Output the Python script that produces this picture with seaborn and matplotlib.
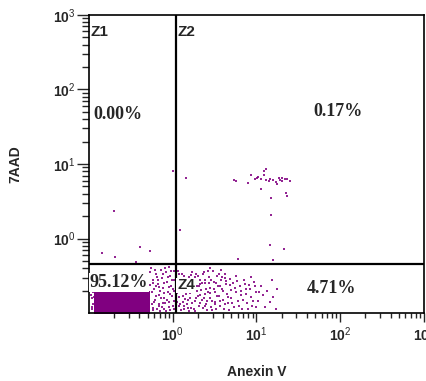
import numpy as np
import pandas as pd
import matplotlib
matplotlib.use("Agg")
import matplotlib.pyplot as plt
import seaborn as sns
from matplotlib.ticker import LogLocator, NullFormatter

# quadrant gates (data units)
gate_x = 1.09
gate_y = 0.46

# quadrant texts
zone_names = ["Z1", "Z2", "Z4"]
pct_labels = ["0.00%", "0.17%", "95.12%", "4.71%"]

tick_vals = [1, 10, 100, 1000]
tick_text = [r"$\mathbf{10}^{0}$", r"$\mathbf{10}^{1}$",
             r"$\mathbf{10}^{2}$", r"$\mathbf{10}^{3}$"]

# events, as (log10 Anexin V, log10 7AAD)
upper_pts = [
    (0.73, 0.79), (0.75, 0.77), (0.90, 0.75), (0.94, 0.85), (0.98, 0.80), (1.01, 0.81),
    (1.02, 0.83), (1.06, 0.80), (1.09, 0.90), (1.11, 0.93), (1.09, 0.85), (1.12, 0.78),
    (1.16, 0.80), (1.15, 0.77), (1.20, 0.78), (1.23, 0.76), (1.25, 0.73), (1.27, 0.81),
    (1.28, 0.79), (1.31, 0.81), (1.31, 0.77), (1.34, 0.80), (1.37, 0.80), (1.40, 0.77),
    (1.05, 0.66), (1.17, 0.55), (1.35, 0.61), (1.37, 0.57), (1.17, 0.32), (1.16, -0.09),
    (1.33, -0.14), (0.78, -0.28), (1.20, -0.29), (0.00, 0.90), (0.16, 0.81),
    (-0.70, 0.37), (0.09, 0.12), (-0.84, -0.19), (-0.69, -0.25), (-0.39, -0.11),
    (-0.27, -0.16), (-0.44, -0.31),
]

# lower right quadrant (early apoptotic)
band_pts = [
    (0.06, -0.62), (0.08, -0.78), (0.07, -0.90), (0.10, -0.55), (0.11, -0.70), (0.12, -0.85),
    (0.13, -0.95), (0.15, -0.60), (0.16, -0.74), (0.17, -0.88), (0.19, -0.52), (0.20, -0.66),
    (0.21, -0.80), (0.22, -0.93), (0.24, -0.58), (0.25, -0.71), (0.26, -0.84), (0.28, -0.47),
    (0.29, -0.63), (0.30, -0.77), (0.31, -0.90), (0.33, -0.55), (0.34, -0.69), (0.35, -0.82),
    (0.37, -0.45), (0.38, -0.60), (0.39, -0.74), (0.40, -0.88), (0.41, -0.96), (0.43, -0.52),
    (0.44, -0.66), (0.45, -0.79), (0.46, -0.92), (0.48, -0.43), (0.49, -0.58), (0.50, -0.71),
    (0.51, -0.85), (0.53, -0.50), (0.54, -0.64), (0.55, -0.77), (0.56, -0.90), (0.58, -0.56),
    (0.59, -0.68), (0.60, -0.82), (0.61, -0.95), (0.63, -0.47), (0.64, -0.61), (0.65, -0.74),
    (0.66, -0.87), (0.68, -0.54), (0.69, -0.69), (0.70, -0.80),
    (0.72, -0.60), (0.73, -0.92), (0.75, -0.50), (0.76, -0.72), (0.78, -0.84), (0.80, -0.63),
    (0.82, -0.76), (0.83, -0.95), (0.85, -0.55), (0.87, -0.68), (0.89, -0.86), (0.91, -0.62),
    (0.93, -0.78), (0.95, -0.90), (0.97, -0.58), (0.99, -0.72),
    (1.02, -0.83), (1.05, -0.64), (1.08, -0.76), (1.10, -0.92), (1.13, -0.70), (1.16, -0.85),
    (1.20, -0.78), (1.25, -0.68), (1.23, -0.94), (1.18, -0.55),
    (0.07, -0.48), (0.09, -0.67), (0.14, -0.50), (0.18, -0.93), (0.23, -0.45), (0.27, -0.97),
    (0.32, -0.61), (0.36, -0.93), (0.42, -0.71), (0.47, -0.83), (0.52, -0.95), (0.57, -0.63),
    (0.62, -0.53), (0.67, -0.96), (0.05, -0.73), (0.10, -0.96), (0.15, -0.81), (0.26, -0.52),
    (0.44, -0.40), (0.58, -0.42),
    (0.04, -0.55), (0.05, -0.85), (0.06, -0.44), (0.08, -0.60), (0.09, -0.88), (0.11, -0.47),
    (0.12, -0.77), (0.13, -0.63), (0.14, -0.91), (0.16, -0.56), (0.17, -0.68), (0.18, -0.82),
    (0.19, -0.97), (0.20, -0.59), (0.21, -0.73), (0.22, -0.49), (0.23, -0.87), (0.24, -0.66),
    (0.25, -0.94), (0.27, -0.57), (0.28, -0.80), (0.29, -0.70), (0.30, -0.50), (0.31, -0.64),
    (0.32, -0.86), (0.33, -0.75), (0.35, -0.60), (0.36, -0.48), (0.37, -0.79), (0.38, -0.91),
    (0.39, -0.55), (0.40, -0.67), (0.41, -0.83), (0.42, -0.44), (0.43, -0.60), (0.45, -0.73),
    (0.46, -0.55), (0.47, -0.96), (0.49, -0.67), (0.50, -0.88), (0.52, -0.59), (0.53, -0.77),
    (0.55, -0.47), (0.57, -0.84), (0.59, -0.52), (0.60, -0.70), (0.62, -0.88), (0.64, -0.57),
    (0.66, -0.78), (0.68, -0.62),
    (0.71, -0.86), (0.74, -0.66), (0.77, -0.57), (0.79, -0.91), (0.81, -0.70), (0.84, -0.82),
    (0.86, -0.61), (0.88, -0.74), (0.90, -0.95), (0.92, -0.68), (0.94, -0.52), (0.96, -0.84),
    (0.98, -0.64), (1.00, -0.92), (1.03, -0.72),
]

# lower left quadrant, between the dense core and the gate
gap_pts = [
    (-0.26, -0.40), (-0.24, -0.55), (-0.22, -0.68), (-0.21, -0.82), (-0.20, -0.47), (-0.18, -0.61),
    (-0.17, -0.75), (-0.16, -0.90), (-0.14, -0.42), (-0.13, -0.53), (-0.12, -0.66), (-0.11, -0.79),
    (-0.10, -0.94), (-0.08, -0.45), (-0.07, -0.58), (-0.06, -0.71), (-0.05, -0.85), (-0.04, -0.38),
    (-0.03, -0.50), (-0.02, -0.63), (-0.01, -0.77), (0.00, -0.91), (0.01, -0.44), (0.02, -0.56),
    (0.02, -0.70), (-0.25, -0.88), (-0.23, -0.96), (-0.19, -0.52), (-0.15, -0.70), (-0.09, -0.87),
    (-0.28, -0.74), (-0.27, -0.62), (-0.03, -0.96), (-0.15, -0.97),
    (-0.27, -0.45), (-0.25, -0.72), (-0.24, -0.93), (-0.23, -0.60), (-0.22, -0.85), (-0.21, -0.42),
    (-0.20, -0.77), (-0.19, -0.95), (-0.18, -0.55), (-0.17, -0.88), (-0.16, -0.65), (-0.14, -0.80),
    (-0.13, -0.92), (-0.12, -0.48), (-0.11, -0.60), (-0.10, -0.73), (-0.09, -0.40), (-0.08, -0.97),
    (-0.07, -0.82), (-0.06, -0.52), (-0.05, -0.65), (-0.04, -0.92), (-0.03, -0.74), (-0.02, -0.43),
    (-0.01, -0.56), (0.00, -0.68), (0.01, -0.84), (0.02, -0.95), (-0.12, -0.87), (-0.20, -0.63),
]

# around the edge of the dense core
edge_pts = [
    (-0.97, -0.80), (-0.96, -0.92), (-0.95, -0.72), (-0.93, -0.86), (-0.90, -0.69), (-0.82, -0.70),
    (-0.70, -0.71), (-0.55, -0.69), (-0.40, -0.70), (-0.98, -0.75), (-0.97, -0.95), (-0.94, -0.78),
    (-0.93, -0.97), (-0.95, -0.88),
]

# dense core of live cells, solid block (log10 decades)
core_cols = [-0.90, -0.85, -0.80, -0.75, -0.70, -0.65, -0.60, -0.55, -0.50,
             -0.45, -0.40, -0.35, -0.31]
core_rows = [-0.745, -0.79, -0.84, -0.89, -0.94, -0.98]

sns.set_style("ticks")
plt.rcParams["font.family"] = ["Liberation Sans", "DejaVu Sans"]
plt.rcParams["mathtext.fontset"] = "custom"
plt.rcParams["mathtext.rm"] = "Liberation Sans"
plt.rcParams["mathtext.bf"] = "Liberation Sans:bold"

purple = "#800080"

pts = np.array(upper_pts + band_pts + gap_pts + edge_pts)
events = pd.DataFrame({"anexin": 10 ** pts[:, 0], "aad": 10 ** pts[:, 1]})
core = pd.DataFrame(
    [(10 ** cx, 10 ** cy) for cy in core_rows for cx in core_cols],
    columns=["anexin", "aad"],
)

fig = plt.figure(figsize=(4.26, 3.81), dpi=100)
ax = fig.add_axes([0.209, 0.178, 0.786, 0.783])
ax.set_xscale("log")
ax.set_yscale("log")

sns.scatterplot(data=core, x="anexin", y="aad", ax=ax, marker="s", s=16,
                color=purple, linewidth=0, zorder=2)
sns.scatterplot(data=events, x="anexin", y="aad", ax=ax, marker="s", s=2.8,
                color=purple, linewidth=0, alpha=0.85, zorder=2)

ax.set_xlim(0.1, 1000)
ax.set_ylim(0.1, 1000)

# gates
ax.axvline(gate_x, color="black", lw=1.6, zorder=4)
ax.axhline(gate_y, color="black", lw=1.6, zorder=4)

for s in ax.spines.values():
    s.set_linewidth(1.2)
    s.set_color("black")
    s.set_zorder(5)

ax.set_xticks(tick_vals)
ax.set_xticklabels(tick_text)
ax.set_yticks(tick_vals)
ax.set_yticklabels(tick_text)
for axis in (ax.xaxis, ax.yaxis):
    axis.set_minor_locator(LogLocator(base=10, subs=range(2, 10)))
    axis.set_minor_formatter(NullFormatter())
ax.tick_params(axis="x", which="major", length=6.5, width=1, pad=2, labelsize=10)
ax.tick_params(axis="x", which="minor", length=3.6, width=1)
ax.tick_params(axis="y", which="major", length=8.6, width=1, pad=1, labelsize=10)
ax.tick_params(axis="y", which="minor", length=5, width=1)

ax.set_xlabel("Anexin V", fontsize=10, fontweight="bold")
ax.set_ylabel("7AAD", fontsize=10, fontweight="bold")
ax.xaxis.set_label_coords(0.5, -0.175)
ax.yaxis.set_label_coords(-0.2, 0.5)

# zone names
zkw = dict(transform=ax.transAxes, fontsize=11, fontweight="bold", va="top", zorder=6)
ax.text(0.003, 0.966, zone_names[0], **zkw)
ax.text(0.263, 0.966, zone_names[1], **zkw)
ax.text(0.263, 0.117, zone_names[2],
        bbox=dict(facecolor="white", edgecolor="none", pad=0.5), **zkw)

# percentages
pkw = dict(transform=ax.transAxes, fontsize=13, fontweight="bold",
           family=["Liberation Serif", "DejaVu Serif"], va="baseline", zorder=6)
ax.text(0.012, 0.651, pct_labels[0], **pkw)
ax.text(0.669, 0.661, pct_labels[1], **pkw)
ax.text(0.002, 0.087, pct_labels[2],
        bbox=dict(facecolor="white", edgecolor="none", pad=0.8), **pkw)
ax.text(0.651, 0.069, pct_labels[3], **pkw)

fig.savefig("out.png", dpi=100)
